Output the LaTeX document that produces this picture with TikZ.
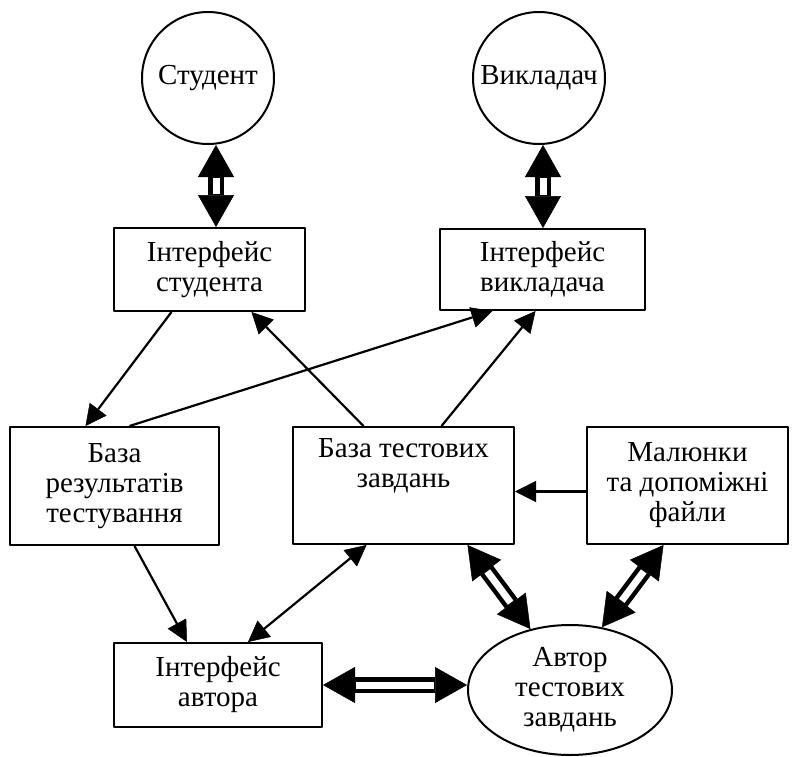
\documentclass[tikz,border=0pt]{standalone}
\usepackage{fontspec}
\setmainfont{Liberation Serif}
\usetikzlibrary{arrows.meta,shapes.geometric}
\begin{document}
\begin{tikzpicture}[x=1pt, y=-1pt, font=\fontsize{29}{30}\selectfont, line join=round,
	box/.style={draw, line width=2pt, align=center, inner sep=0pt},
	actor/.style={draw, circle, line width=2pt, minimum size=132pt, inner sep=0pt},
	arr/.style={line width=2.2pt, -{Triangle[length=21pt,width=21pt,line width=0.5pt]}},
	arrr/.style={line width=2.2pt, {Triangle[length=21pt,width=21pt,line width=0.5pt]}-{Triangle[length=21pt,width=21pt,line width=0.5pt]}},
	darr/.style={line width=16pt, {Triangle[length=32pt,width=36pt,line width=0.5pt]}-{Triangle[length=32pt,width=36pt,line width=0.5pt]},
		postaction={draw=white, line width=7pt, arrows=-, shorten <=33pt, shorten >=33pt}}]
	\useasboundingbox (0,0) rectangle (792,757);
	% actors
	\node[actor] (stud) at (208,78) {Студент};
	\node[actor] (vykl) at (539,78) {Викладач};
	% interfaces
	\node[box, minimum width=191pt, minimum height=83pt] (istud) at (209.5,269.5) {Інтерфейс\\студента};
	\node[box, minimum width=205pt, minimum height=81pt] (ivykl) at (542.5,269.5) {Інтерфейс\\викладача};
	% databases
	\node[box, minimum width=209pt, minimum height=118pt] (bres) at (114.5,486) {База\\результатів\\тестування};
	\node[box, minimum width=221pt, minimum height=117pt] (btest) at (403.5,485.5) {База тестових\\завдань\\[14pt]};
	\node[box, minimum width=201pt, minimum height=117pt] (mal) at (687.5,485.5) {Малюнки\\та допоміжні\\файли};
	% author
	\node[box, minimum width=208pt, minimum height=84pt] (iavt) at (218,685) {Інтерфейс\\автора};
	\node[draw, ellipse, line width=2pt, minimum width=204pt, minimum height=130pt, inner sep=0pt, align=center] (avt) at (570,690) {Автор\\тестових\\завдань};
	% connectors
	\draw[darr] ([xshift=8pt]stud.south) -- ([xshift=8pt]stud.south |- istud.north);
	\draw[darr] ([xshift=4pt]vykl.south) -- ([xshift=4pt]vykl.south |- ivykl.north);
	\draw[arr] ([xshift=-38pt]istud.south) -- ([xshift=-29pt]bres.north);
	\draw[arr] ([xshift=15pt]bres.north) -- ([xshift=-50pt]ivykl.south);
	\draw[arr] ([xshift=-40pt]btest.north) -- ([xshift=42pt]istud.south);
	\draw[arr] ([xshift=38pt]btest.north) -- ([xshift=-7pt]ivykl.south);
	\draw[arr] ([yshift=-6pt]mal.west) -- ([yshift=-6pt]mal.west -| btest.east);
	\draw[arr] ([xshift=20pt]bres.south) -- ([xshift=-31pt]iavt.north);
	\draw[arrr] ([xshift=-37pt]btest.south) -- ([xshift=30pt]iavt.north);
	\draw[darr] ([xshift=64pt]btest.south) -- (avt.123);
	\draw[darr] ([xshift=-24pt]mal.south) -- (avt.63);
	\draw[darr] (iavt.east) -- (iavt.east -| avt.west);
\end{tikzpicture}
\end{document}
